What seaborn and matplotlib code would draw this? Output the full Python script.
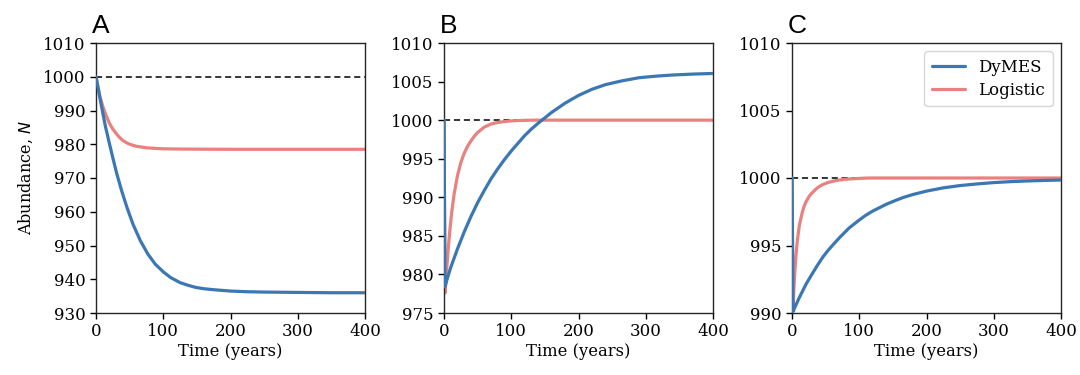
import numpy as np
import pandas as pd
import matplotlib
matplotlib.use("Agg")
import matplotlib.pyplot as plt
import seaborn as sns

# ---------------- data ----------------
# Panel A
tA_dymes = [0, 3, 6, 10, 14, 19, 25, 31, 38, 46, 55, 66, 77, 88, 100, 111, 125, 137, 148, 160,
            175, 200, 225, 250, 300, 350, 400]
nA_dymes = [1000, 996.8, 993.5, 989.4, 985.3, 981.0, 976.0, 971.2, 966.3, 961.3, 956.3, 951.4,
            947.5, 944.5, 942.2, 940.5, 939.0, 938.2, 937.6, 937.2, 936.9, 936.5, 936.3, 936.2,
            936.1, 936.0, 936.0]
tA_logis = [0, 3, 6, 10, 15, 20, 25, 30, 35, 40, 45, 50, 60, 75, 90, 100, 125, 150, 200, 400]
nA_logis = [1000, 996.9, 994.1, 991.3, 988.5, 986.2, 984.5, 983.2, 982.0, 981.1, 980.5, 980.0,
            979.4, 978.95, 978.75, 978.65, 978.58, 978.55, 978.5, 978.5]

# Panel B
tB_dymes = [0, 1.5, 5, 10, 15, 20, 25, 30, 40, 50, 60, 70, 80, 90, 100, 110, 120, 130, 140, 150,
            160, 180, 200, 220, 240, 265, 290, 315, 340, 370, 400]
nB_dymes = [1000, 978.4, 979.5, 980.9, 982.1, 983.3, 984.4, 985.5, 987.5, 989.3, 990.9, 992.4,
            993.7, 994.9, 996.0, 997.0, 998.0, 998.85, 999.6, 1000.3, 1001.0, 1002.2, 1003.2,
            1004.0, 1004.6, 1005.1, 1005.5, 1005.7, 1005.85, 1005.97, 1006.05]
tB_logis = [0, 1.5, 3, 4.5, 6, 8, 11, 15, 20, 25, 30, 35, 40, 45, 50, 60, 70, 80, 90, 100, 115,
            130, 200, 400]
nB_logis = [1000, 977.6, 979.5, 981.3, 983.0, 985.1, 987.7, 990.4, 992.8, 994.5, 995.7, 996.6,
            997.3, 997.9, 998.4, 999.1, 999.5, 999.7, 999.82, 999.9, 999.96, 1000.0, 1000.0,
            1000.0]

# Panel C
tC_dymes = [0, 1.5, 5, 10, 15, 21, 30, 38, 46, 53, 60, 71, 85, 99, 110, 120, 130, 140, 152, 165,
            180, 200, 225, 250, 275, 300, 325, 350, 375, 400]
nC_dymes = [1000, 990.1, 990.5, 991.05, 991.55, 992.15, 992.9, 993.55, 994.15, 994.6, 995.0,
            995.6, 996.3, 996.85, 997.25, 997.55, 997.8, 998.05, 998.3, 998.55, 998.78, 999.03,
            999.27, 999.44, 999.56, 999.66, 999.73, 999.78, 999.82, 999.85]
tC_logis = [0, 1.5, 3, 4.5, 6, 8, 11, 15, 18, 21, 25, 28, 32, 36, 40, 45, 50, 56, 63, 70, 78, 86,
            100, 115, 200, 400]
nC_logis = [1000, 990.3, 992.0, 993.3, 994.3, 995.4, 996.5, 997.4, 997.9, 998.25, 998.6, 998.8,
            999.0, 999.2, 999.35, 999.5, 999.6, 999.7, 999.78, 999.85, 999.9, 999.93, 999.97,
            1000.0, 1000.0, 1000.0]

carrying_capacity = 1000
panel_labels = ["A", "B", "C"]
series_names = ["DyMES", "Logistic"]
x_ticks = [0, 100, 200, 300, 400]
y_limits = [(930, 1010), (975, 1010), (990, 1010)]
y_steps = [10, 5, 5]

# ---------------- styling ----------------
sns.set_style("ticks")
plt.rcParams["font.family"] = ["DejaVu Serif"]
plt.rcParams["mathtext.fontset"] = "dejavusans"
plt.rcParams["text.color"] = "black"
plt.rcParams["axes.labelcolor"] = "black"
plt.rcParams["xtick.color"] = "black"
plt.rcParams["ytick.color"] = "black"

blue = "#3a77b3"
red = "#e8817f"

fig = plt.figure(figsize=(10.8, 3.75), dpi=100)
lefts = [96, 444, 792]
axes = []
for l in lefts:
    axes.append(fig.add_axes([l / 1080, 1 - 313 / 375, 269 / 1080, 270 / 375]))

data = [
    (tA_dymes, nA_dymes, tA_logis, nA_logis),
    (tB_dymes, nB_dymes, tB_logis, nB_logis),
    (tC_dymes, nC_dymes, tC_logis, nC_logis),
]

for i, ax in enumerate(axes):
    td, nd, tl, nl = data[i]
    ax.axhline(carrying_capacity, color="black", lw=1.1, ls=(0, (4, 2.5)), zorder=1)
    sns.lineplot(x=tl, y=nl, ax=ax, color=red, lw=2.3, label=series_names[1], zorder=2, legend=False)
    sns.lineplot(x=td, y=nd, ax=ax, color=blue, lw=2.3, label=series_names[0], zorder=3, legend=False)
    ax.set_xlim(0, 400)
    ax.set_xticks(x_ticks)
    lo, hi = y_limits[i]
    ax.set_ylim(lo, hi)
    ax.set_yticks(np.arange(lo, hi + 0.1, y_steps[i]))
    ax.tick_params(labelsize=12, length=4, width=1, colors="black")
    for s in ax.spines.values():
        s.set_visible(True)
        s.set_linewidth(1.0)
        s.set_color("0.15")
    ax.set_xlabel("Time (years)", fontsize=11.8, labelpad=2)
    ax.set_ylabel("")
    ax.text(-0.015, 1.02, panel_labels[i], transform=ax.transAxes, fontsize=19,
            family=["Liberation Sans", "DejaVu Sans"], ha="left", va="bottom", color="black")

axes[0].set_ylabel("Abundance, $N$", fontsize=11.5, labelpad=6)

h = axes[2].get_lines()
handles = [l for l in h if l.get_label() in series_names]
order = sorted(handles, key=lambda l: series_names.index(l.get_label()))
axes[2].legend(order, [l.get_label() for l in order], loc="upper right", fontsize=12,
               frameon=True, handlelength=2.0, borderpad=0.45, labelspacing=0.35)

fig.savefig("out.png", dpi=100)
